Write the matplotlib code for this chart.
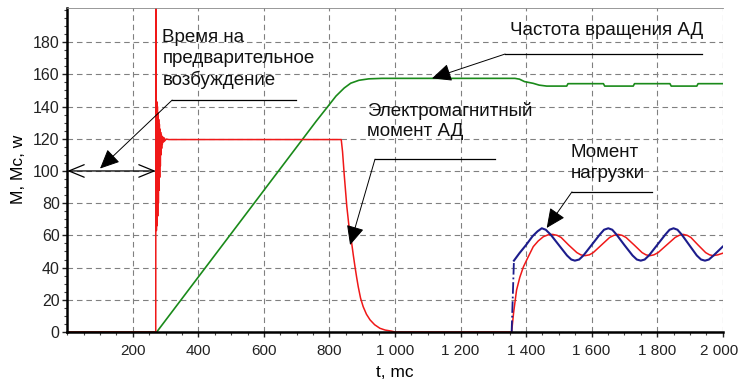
import matplotlib
matplotlib.use("Agg")
import matplotlib.pyplot as plt
from matplotlib.ticker import FuncFormatter, MultipleLocator
from matplotlib.transforms import ScaledTranslation

plt.rcParams['font.family'] = ['Liberation Sans', 'DejaVu Sans']

# electromagnetic torque of the motor (red), t in ms
em_t = [0, 270, 270.7, 272, 273, 274, 275, 276, 277, 278, 279, 280, 281, 282,
        283, 284, 285, 286, 287, 288, 289, 290, 292, 294, 296, 298, 302, 310,
        836, 840, 845, 853, 860, 868, 873, 878, 883, 888, 895, 903, 913, 924,
        938, 954, 970, 990, 1000,
        1356, 1362, 1371, 1381, 1392, 1405, 1422, 1437, 1453, 1467, 1481, 1495,
        1507, 1530, 1555, 1567, 1580, 1593, 1605, 1630, 1655, 1668, 1681, 1693,
        1705, 1730, 1754, 1766, 1778, 1790, 1803, 1829, 1855, 1867, 1880, 1892,
        1903, 1925, 1948, 1960, 1971, 1985, 2000]
em_m = [0, 0, 260, 63, 143, 66, 140, 72, 136, 80, 132, 88, 129, 96,
        126, 103, 124, 110, 122.5, 114, 121.5, 116.5, 121, 118, 120.5, 118.8, 119.8, 119.5,
        119.5, 112, 98, 78, 65, 55, 47.5, 40.5, 34, 28, 21, 15.7, 11, 7.5,
        4.5, 2.3, 1.2, 0.5, 0,
        0, 12, 26, 34, 40.5, 46, 53, 56.5, 59.2, 60.3, 60.6, 60,
        58.7, 54, 49.3, 47.9, 47.4, 47.9, 49.3, 54, 58.7, 60, 60.6, 60,
        58.7, 54, 49.3, 47.9, 47.4, 47.9, 49.3, 54, 58.7, 60, 60.6, 60,
        58.7, 54, 49.3, 47.9, 47.4, 47.9, 48.9]

# load torque (blue)
load_jump_t = [1356, 1363]
load_jump_m = [0, 44.3]
load_t = [1363, 1380, 1400, 1420, 1435, 1448, 1460, 1475, 1500, 1525, 1538, 1549,
          1562, 1575, 1600, 1625, 1638, 1651, 1663, 1676, 1700, 1725, 1738, 1750,
          1762, 1775, 1800, 1825, 1838, 1850, 1862, 1875, 1898, 1921, 1934, 1946,
          1958, 1972, 2000]
load_m = [44.3, 49, 54, 59.5, 62.5, 64.4, 63.5, 60.5, 54, 47.5, 45, 44.3,
          45, 47.5, 54, 60.5, 63.5, 64.4, 63.5, 60.5, 54, 47.5, 45, 44.3,
          45, 47.5, 54, 60.5, 63.5, 64.4, 63.5, 60.5, 54, 47.5, 45, 44.3,
          45, 47.5, 53]

# rotation speed (green)
speed_t = [0, 273, 760, 795, 820, 845, 865, 890, 920, 960, 1366, 1380, 1395,
           1422, 1440, 1463, 1524, 1528, 1636, 1640, 1727, 1731, 1839, 1843,
           1921, 1925, 2000]
speed_w = [0, 0, 131, 140, 146.5, 151.5, 154.5, 156.3, 157.2, 157.5, 157.5, 157, 155.5,
           154.4, 153.3, 152.7, 152.7, 154.2, 154.2, 152.7, 152.7, 154.2, 154.2, 152.7,
           152.7, 154.2, 154.2]

xticks = list(range(200, 2001, 200))
yticks = list(range(0, 181, 20))


def thousands(v, pos):
    return f"{int(v):,}".replace(",", " ")


fig = plt.figure(figsize=(7.4, 3.83), dpi=100)
ax = fig.add_axes([0.0909, 0.1332, 0.8857, 0.8472])

ax.plot(speed_t, speed_w, color='#1a8a1a', lw=1.2)
ax.plot(em_t, em_m, color='#f01818', lw=1.1)
ax.plot(load_jump_t, load_jump_m, color='#1c1c8c', lw=1.3, linestyle='-.')
ax.plot(load_t, load_m, color='#1c1c8c', lw=1.5)

ax.set_xlim(0, 2000)
ax.set_ylim(0, 201.5)
ax.set_xticks(xticks)
ax.set_yticks(yticks)
ax.xaxis.set_minor_locator(MultipleLocator(50))
ax.yaxis.set_minor_locator(MultipleLocator(5))
ax.xaxis.set_major_formatter(FuncFormatter(thousands))
ax.tick_params(which='major', direction='out', length=3.5, width=1, colors='#222222')
ax.tick_params(which='minor', direction='out', length=2.5, width=0.8, colors='#444444')
ax.tick_params(axis='x', pad=5, labelsize=11)
ax.tick_params(axis='y', pad=2, labelsize=11.5)

# keep the last x label inside the picture
last = ax.xaxis.get_major_ticks()[-1].label1
last.set_transform(last.get_transform() + ScaledTranslation(-0.04, 0, fig.dpi_scale_trans))

ax.grid(True, which='major', color='#808080', lw=0.8, linestyle=(0, (5, 3.5)))
ax.set_axisbelow(True)

ax.spines['left'].set_linewidth(1.8)
ax.spines['bottom'].set_linewidth(1.8)
ax.spines['top'].set_linewidth(0.6)
ax.spines['top'].set_color('#888888')
ax.spines['right'].set_visible(False)

ax.set_xlabel('t, mc', fontsize=12.5, labelpad=5)
ax.set_ylabel('M, Mc, w', fontsize=12.5, labelpad=5)

# annotations: text block, text anchor, elbow, end of shelf, arrow tip
notes = [
    ('Время на\nпредварительное\nвозбуждение', (290, 169.5), (320, 144), 698, (100, 101.5)),
    ('Частота вращения АД', (1351, 187.5), (1336, 172.6), 1937, (1113, 157.5)),
    ('Электромагнитный\nмомент АД', (915, 131), (939, 107.3), 1305, (863, 54)),
    ('Момент\nнагрузки', (1537, 105), (1540, 87), 1784, (1463, 64.6)),
]
for text, pos, elbow, end, tip in notes:
    ax.text(pos[0], pos[1], text, fontsize=13.5, ha='left', va='center',
            linespacing=1.25, color='#111111')
    ax.plot([elbow[0], end], [elbow[1], elbow[1]], color='black', lw=0.9)
    ax.annotate('', xy=tip, xytext=elbow,
                arrowprops=dict(arrowstyle='-|>,head_length=1.2,head_width=0.55',
                                color='black', lw=0.7, shrinkA=0, shrinkB=0,
                                mutation_scale=10))

# pre-excitation interval marker
ax.annotate('', xy=(0, 100), xytext=(270, 100),
            arrowprops=dict(arrowstyle='<->,head_length=1.1,head_width=0.45',
                            color='black', lw=0.9, shrinkA=0, shrinkB=0,
                            mutation_scale=10))

fig.savefig('out.png', dpi=100)
